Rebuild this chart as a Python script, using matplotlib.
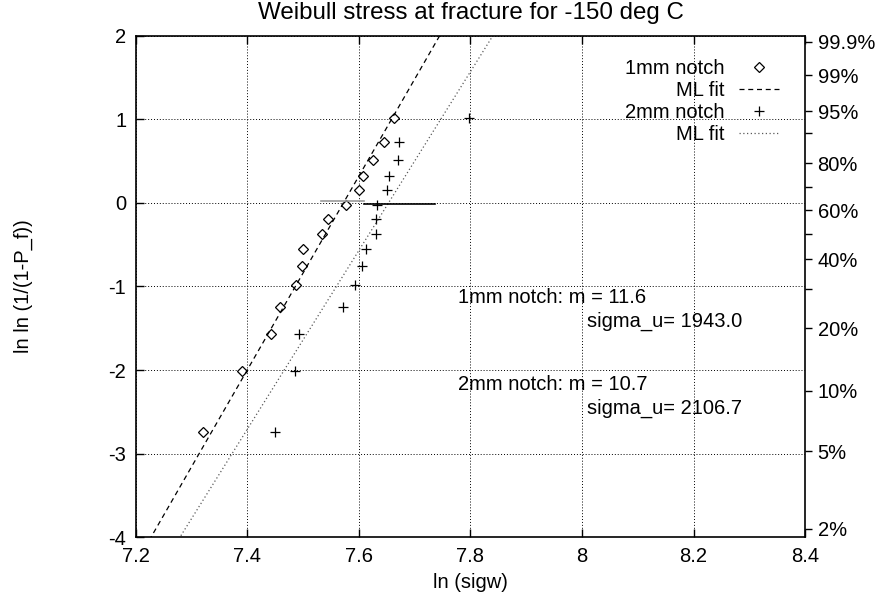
import numpy as np
import matplotlib
matplotlib.use('Agg')
import matplotlib.pyplot as plt

plt.rcParams['font.family'] = ['Liberation Sans', 'DejaVu Sans']
plt.rcParams['font.size'] = 14.5
plt.rcParams['axes.unicode_minus'] = False

# ln ln(1/(1-P_f)) for the 15 specimens of each notch
lnln_pf = [-2.741, -2.013, -1.572, -1.246, -0.982, -0.755, -0.553, -0.367,
           -0.190, -0.019, 0.151, 0.327, 0.515, 0.732, 1.020]
# ln(sigw)
sigw_1mm = [7.320, 7.390, 7.442, 7.458, 7.487, 7.497, 7.500, 7.534,
            7.545, 7.577, 7.600, 7.608, 7.625, 7.645, 7.663]
sigw_2mm = [7.449, 7.485, 7.492, 7.572, 7.593, 7.605, 7.612, 7.631,
            7.631, 7.633, 7.651, 7.653, 7.670, 7.672, 7.798]

# ML fit parameters
m_1mm, su_1mm = 11.6, 1943.0
m_2mm, su_2mm = 10.7, 2106.7

# short horizontal segments near ln ln = 0
seg_1mm_x = [7.532, 7.6095]
seg_1mm_y = [0.024, 0.024]
seg_2mm_x = [7.6095, 7.736]
seg_2mm_y = [-0.016, -0.016]

# right axis probabilities (%)
prob_ticks = [2, 5, 10, 20, 30, 40, 50, 60, 70, 80, 90, 95, 99, 99.9]
prob_labels = ['2%', '5%', '10%', '20%', '', '40%', '', '60%', '', '80%', '', '95%', '99%', '99.9%']

fig = plt.figure(figsize=(8.9, 5.92), dpi=100)
ax = fig.add_axes([0.1528, 0.0929, 0.7517, 0.8463])

xfit = np.linspace(7.2, 8.4, 200)
ax.plot(sigw_1mm, lnln_pf, linestyle='none', marker='D', ms=5, mfc='white',
        mec='black', mew=0.9, label='1mm notch')
ax.plot(xfit, m_1mm * (xfit - np.log(su_1mm)), color='black', lw=0.9,
        dashes=(4, 3), label='ML fit')
ax.plot(sigw_2mm, lnln_pf, linestyle='none', marker='+', ms=7, mec='black',
        mew=0.9, label='2mm notch')
ax.plot(xfit, m_2mm * (xfit - np.log(su_2mm)), color='0.35', lw=0.9,
        dashes=(1, 2), label='ML fit')
ax.plot(seg_1mm_x, seg_1mm_y, color='0.6', lw=1.2)
ax.plot(seg_2mm_x, seg_2mm_y, color='black', lw=1.2)

ax.set_xlim(7.2, 8.4)
ax.set_ylim(-4, 2)
ax.set_xticks([7.2, 7.4, 7.6, 7.8, 8.0, 8.2, 8.4])
ax.set_xticklabels(['7.2', '7.4', '7.6', '7.8', '8', '8.2', '8.4'])
ax.set_yticks([-4, -3, -2, -1, 0, 1, 2])
ax.tick_params(direction='in', top=True, right=True, length=6, width=1, pad=7)
ax.grid(True, color='black', linestyle=(0, (1, 2)), linewidth=0.7)
for s in ax.spines.values():
    s.set_linewidth(1.2)

ax.set_title('Weibull stress at fracture for -150 deg C', pad=12)
ax.set_xlabel('ln (sigw)', labelpad=5)
ax.set_ylabel('ln ln (1/(1-P_f))', labelpad=54)

ax2 = ax.twinx()
ax2.set_ylim(-4, 2)
p = np.array(prob_ticks) / 100.0
ax2.set_yticks(np.log(-np.log(1 - p)))
ax2.set_yticklabels(prob_labels)
ax2.tick_params(direction='out', length=5, width=1, pad=4)
for s in ax2.spines.values():
    s.set_visible(False)

ax.text(7.778, -1.126, '1mm notch: m = 11.6', va='center', ha='left')
ax.text(8.009, -1.413, 'sigma_u= %.1f' % su_1mm, va='center', ha='left')
ax.text(7.778, -2.168, '2mm notch: m = 10.7', va='center', ha='left')
ax.text(8.009, -2.455, 'sigma_u= %.1f' % su_2mm, va='center', ha='left')

ax.legend(loc='upper right', bbox_to_anchor=(0.983, 0.982), frameon=False,
          markerfirst=False, handlelength=2.0, handletextpad=0.75,
          labelspacing=0.15, borderpad=0.2, numpoints=1)

fig.savefig('out.png', dpi=100)
